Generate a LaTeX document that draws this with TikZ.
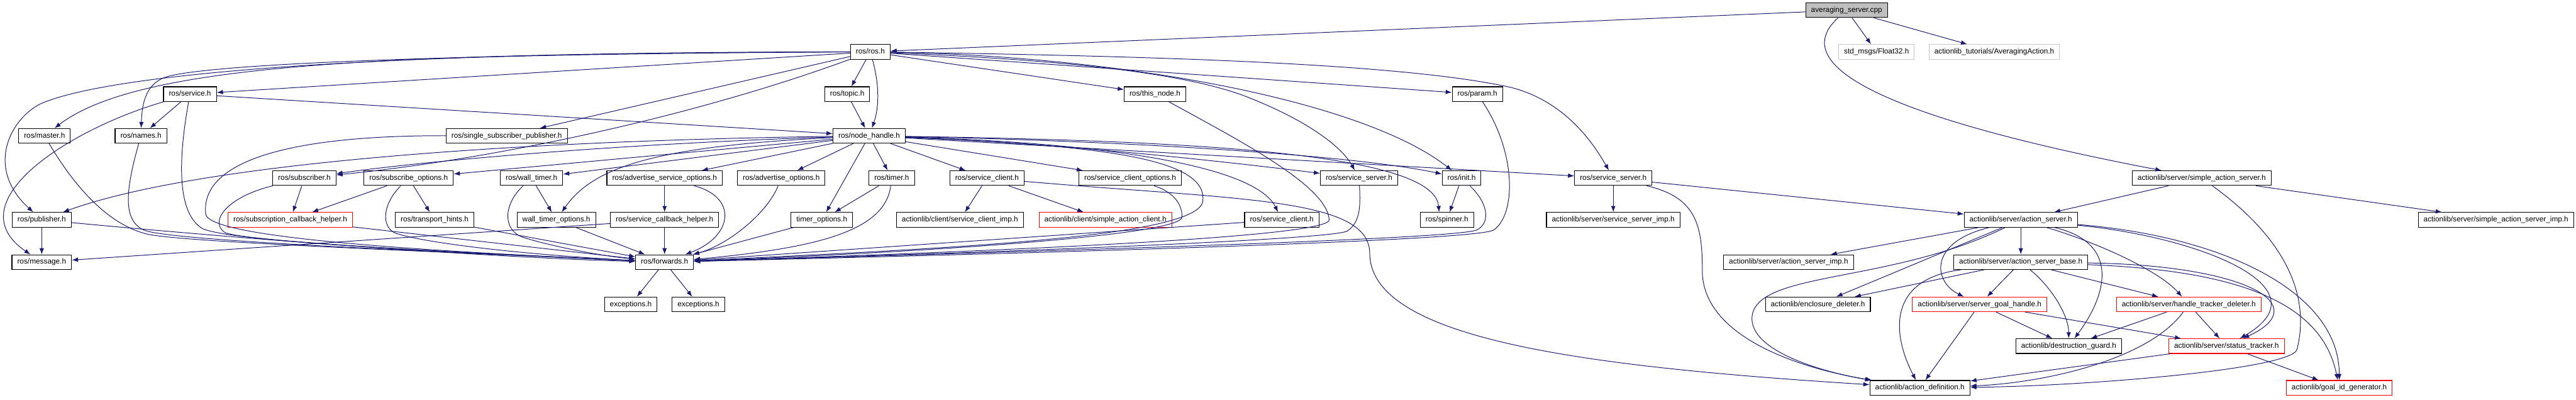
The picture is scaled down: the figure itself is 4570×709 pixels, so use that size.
\documentclass[tikz,border=0pt]{standalone}
\usepackage{fontspec}
\setmainfont{Liberation Sans}
\usepackage{tikz}
\usetikzlibrary{arrows.meta,positioning}
\definecolor{edgeblue}{RGB}{25,25,112}
\definecolor{rootgray}{RGB}{191,191,191}
\definecolor{extgray}{RGB}{200,200,200}
\definecolor{truncred}{RGB}{255,0,0}

\begin{document}
\begin{tikzpicture}[x=1pt, y=-1pt]
    \tikzstyle{hdr}=[draw, line width=1.2pt, fill=white, minimum height=26pt, inner xsep=9.5pt, inner ysep=0pt, text height=9.6pt, text depth=2.8pt, font=\fontsize{13.2}{15}\selectfont]
    \tikzstyle{trunc}=[hdr, draw=truncred]
    \tikzstyle{extern}=[hdr, draw=extgray]
    \tikzstyle{rootbox}=[hdr, fill=rootgray]
    \tikzstyle{dep}=[draw=edgeblue, line width=1.1pt, -{Latex[length=11pt,width=8pt]}]
    \useasboundingbox (0,0) rectangle (4570,709);

    \node[rootbox] (avg) at (3276,18) {averaging\_server.cpp};
    \node[hdr] (ros) at (1544,92) {ros/ros.h};
    \node[extern] (f32) at (3329,92) {std\_msgs/Float32.h};
    \node[extern] (avgact) at (3538,92) {actionlib\_tutorials/AveragingAction.h};

    \node[hdr] (srv) at (337,167) {ros/service.h};
    \node[hdr] (topic) at (1503,167) {ros/topic.h};
    \node[hdr] (thisnode) at (2049,167) {ros/this\_node.h};
    \node[hdr] (param) at (2621,167) {ros/param.h};

    \node[hdr] (master) at (79,241) {ros/master.h};
    \node[hdr] (names) at (250,241) {ros/names.h};
    \node[hdr] (ssp) at (899,241) {ros/single\_subscriber\_publisher.h};
    \node[hdr] (nh) at (1542,241) {ros/node\_handle.h};

    \node[hdr] (sub) at (540,316) {ros/subscriber.h};
    \node[hdr] (subopt) at (725,316) {ros/subscribe\_options.h};
    \node[hdr] (wt) at (943,316) {ros/wall\_timer.h};
    \node[hdr] (aso) at (1179,316) {ros/advertise\_service\_options.h};
    \node[hdr] (ao) at (1386,316) {ros/advertise\_options.h};
    \node[hdr] (timer) at (1582,316) {ros/timer.h};
    \node[hdr] (sc) at (1751,316) {ros/service\_client.h};
    \node[hdr] (sco) at (2005,316) {ros/service\_client\_options.h};
    \node[hdr] (ss1) at (2411,316) {ros/service\_server.h};
    \node[hdr] (init) at (2593,316) {ros/init.h};
    \node[hdr] (ss2) at (2862,316) {ros/service\_server.h};
    \node[hdr] (sas) at (3906,316) {actionlib/server/simple\_action\_server.h};

    \node[hdr] (pub) at (74,390) {ros/publisher.h};
    \node[trunc] (subcb) at (515,390) {ros/subscription\_callback\_helper.h};
    \node[hdr] (hints) at (771,390) {ros/transport\_hints.h};
    \node[hdr] (wto) at (987,390) {wall\_timer\_options.h};
    \node[hdr] (svccb) at (1179,390) {ros/service\_callback\_helper.h};
    \node[hdr] (to) at (1458,390) {timer\_options.h};
    \node[hdr] (scimp) at (1703,390) {actionlib/client/service\_client\_imp.h};
    \node[trunc] (sac) at (1961,390) {actionlib/client/simple\_action\_client.h};
    \node[hdr] (sc2) at (2274,390) {ros/service\_client.h};
    \node[hdr] (spin) at (2567,390) {ros/spinner.h};
    \node[hdr] (ssimp) at (2862,390) {actionlib/server/service\_server\_imp.h};
    \node[hdr] (as) at (3585,390) {actionlib/server/action\_server.h};
    \node[hdr] (sasimp) at (4428,390) {actionlib/server/simple\_action\_server\_imp.h};

    \node[hdr] (msg) at (74,465) {ros/message.h};
    \node[hdr] (fw) at (1179,465) {ros/forwards.h};
    \node[hdr] (asimp) at (3173,465) {actionlib/server/action\_server\_imp.h};
    \node[hdr] (asb) at (3585,465) {actionlib/server/action\_server\_base.h};

    \node[hdr] (excA) at (1119,540) {exceptions.h};
    \node[hdr] (excB) at (1239,540) {exceptions.h};
    \node[hdr] (encl) at (3225,540) {actionlib/enclosure\_deleter.h};
    \node[trunc] (sgh) at (3512,540) {actionlib/server/server\_goal\_handle.h};
    \node[trunc] (htd) at (3883,540) {actionlib/server/handle\_tracker\_deleter.h};

    \node[hdr] (guard) at (3670,614) {actionlib/destruction\_guard.h};
    \node[trunc] (stat) at (3950,614) {actionlib/server/status\_tracker.h};

    \node[hdr] (adef) at (3406,688) {actionlib/action\_definition.h};
    \node[trunc] (goalid) at (4150,688) {actionlib/goal\_id\_generator.h};

    % averaging_server.cpp
    \draw[dep] (avg) -- (ros);
    \draw[dep] (avg) -- (f32);
    \draw[dep] (avg) -- (avgact);
    \draw[dep] (avg) .. controls (3130,150) and (3560,250) .. (sas);

    % ros/ros.h
    \draw[dep] (ros) -- (topic);
    \draw[dep] (ros) .. controls (1560,150) and (1560,190) .. (nh);
    \draw[dep] (ros) -- (thisnode);
    \draw[dep] (ros) -- (param);
    \draw[dep] (ros) .. controls (2100,100) and (2500,115) .. (2680,155) .. controls (2780,180) and (2830,260) .. (ss2);
    \draw[dep] (ros) .. controls (1850,105) and (2100,125) .. (2220,175) .. controls (2320,215) and (2380,260) .. (ss1);
    \draw[dep] (ros) .. controls (2000,100) and (2420,180) .. (init);
    \draw[dep] (ros) -- (srv);
    \draw[dep] (ros) .. controls (700,95) and (250,110) .. (master);
    \draw[dep] (ros) .. controls (900,95) and (400,110) .. (300,135) .. controls (260,145) and (252,180) .. (names);
    \draw[dep] (ros) .. controls (600,92) and (180,135) .. (70,185) .. controls (15,215) and (-25,300) .. (pub);
    \draw[dep] (ros) -- (ssp);
    \draw[dep] (ros) .. controls (1250,200) and (900,280) .. (sub);

    % ros/service.h, ros/topic.h, ros/this_node.h, ros/param.h
    \draw[dep] (srv) -- (names);
    \draw[dep] (srv) .. controls (120,230) and (-80,360) .. (msg);
    \draw[dep] (srv) .. controls (315,290) and (315,380) .. (360,406) .. controls (420,430) and (800,447) .. (fw);
    \draw[dep] (srv) -- (nh);
    \draw[dep] (topic) -- (nh);
    \draw[dep] (thisnode) .. controls (2200,250) and (2355,330) .. (2358,390) .. controls (2360,420) and (1800,445) .. (fw);
    \draw[dep] (param) .. controls (2690,270) and (2690,380) .. (2650,408) .. controls (2620,428) and (1800,450) .. (fw);
    \draw[dep] (master) .. controls (120,310) and (180,395) .. (260,415) .. controls (320,430) and (800,447) .. (fw);
    \draw[dep] (names) .. controls (225,330) and (215,390) .. (255,408) .. controls (300,428) and (800,447) .. (fw);
    \draw[dep] (ssp) .. controls (500,240) and (355,290) .. (365,380) .. controls (372,425) and (800,447) .. (fw);

    % ros/node_handle.h
    \draw[dep] (nh) .. controls (900,250) and (350,290) .. (pub);
    \draw[dep] (nh) .. controls (1100,255) and (760,285) .. (sub);
    \draw[dep] (nh) -- (subopt);
    \draw[dep] (nh) -- (wt);
    \draw[dep] (nh) -- (aso);
    \draw[dep] (nh) -- (ao);
    \draw[dep] (nh) -- (to);
    \draw[dep] (nh) -- (timer);
    \draw[dep] (nh) -- (sc);
    \draw[dep] (nh) -- (sco);
    \draw[dep] (nh) .. controls (1150,260) and (1050,300) .. (wto);
    \draw[dep] (nh) .. controls (1950,258) and (2140,280) .. (2134,355) .. controls (2134,420) and (1700,440) .. (fw);
    \draw[dep] (nh) .. controls (1900,255) and (2200,290) .. (ss1);
    \draw[dep] (nh) .. controls (2000,250) and (2400,275) .. (init);
    \draw[dep] (nh) .. controls (2150,250) and (2545,275) .. ([xshift=-14pt]spin.north);
    \draw[dep] (nh) -- (ss2);
    \draw[dep] (nh) .. controls (2000,255) and (2230,300) .. (sc2);

    % second row of ros headers
    \draw[dep] (sub) -- (subcb);
    \draw[dep] (sub) .. controls (400,350) and (370,395) .. (400,413) .. controls (440,428) and (800,448) .. (fw);
    \draw[dep] (subopt) -- (subcb);
    \draw[dep] (subopt) -- (hints);
    \draw[dep] (subopt) .. controls (680,360) and (675,400) .. (700,413) .. controls (740,428) and (900,450) .. (fw);
    \draw[dep] (wt) -- (wto);
    \draw[dep] (wt) .. controls (895,360) and (890,405) .. (925,420) .. controls (960,432) and (1050,452) .. (fw);
    \draw[dep] (aso) -- (svccb);
    \draw[dep] (aso) .. controls (1310,350) and (1300,420) .. (fw);
    \draw[dep] (ao) .. controls (1360,380) and (1290,435) .. (fw);
    \draw[dep] (timer) -- (to);
    \draw[dep] (timer) .. controls (1570,410) and (1450,440) .. (fw);
    \draw[dep] (sc) -- (scimp);
    \draw[dep] (sc) -- (sac);
    \draw[dep] (sc) .. controls (2200,355) and (2430,350) .. (2430,450) .. controls (2432,600) and (2800,650) .. (adef);
    \draw[dep] (sco) .. controls (2080,340) and (2097,360) .. (2097,385) .. controls (2097,415) and (1700,445) .. (fw);
    \draw[dep] (ss1) .. controls (2414,370) and (2412,395) .. (2390,410) .. controls (2360,425) and (1800,447) .. (fw);
    \draw[dep] (init) -- (spin);
    \draw[dep] (init) .. controls (2640,360) and (2645,395) .. (2620,408) .. controls (2580,425) and (1800,447) .. (fw);
    \draw[dep] (ss2) -- (ssimp);
    \draw[dep] (ss2) -- (as);
    \draw[dep] (ss2) .. controls (3010,350) and (3020,400) .. (3020,480) .. controls (3020,600) and (3200,655) .. (adef);
    \draw[dep] (sas) -- (as);
    \draw[dep] (sas) -- (sasimp);
    \draw[dep] (sas) .. controls (4050,420) and (4100,520) .. (4075,620) .. controls (4065,655) and (3700,685) .. (adef);

    % third row
    \draw[dep] (pub) -- (msg);
    \draw[dep] (pub) .. controls (500,430) and (900,458) .. (fw);
    \draw[dep] (subcb) -- (fw);
    \draw[dep] (hints) -- (fw);
    \draw[dep] (wto) -- (fw);
    \draw[dep] (svccb) -- (fw);
    \draw[dep] (svccb) -- (msg);
    \draw[dep] (to) -- (fw);
    \draw[dep] (sc2) -- (fw);
    \draw[dep] (fw) -- (excA);
    \draw[dep] (fw) -- (excB);

    % action server
    \draw[dep] (as) -- (asimp);
    \draw[dep] (as) -- (asb);
    \draw[dep] (as) -- (encl);
    \draw[dep] (as) .. controls (3350,505) and (3110,480) .. (3108,565) .. controls (3108,630) and (3260,665) .. (adef);
    \draw[dep] (as) .. controls (3420,430) and (3430,500) .. (sgh);
    \draw[dep] (as) .. controls (3760,430) and (3740,520) .. (guard);
    \draw[dep] (as) .. controls (3720,430) and (3830,480) .. (htd);
    \draw[dep] (as) .. controls (3900,420) and (4130,510) .. (stat);
    \draw[dep] (as) .. controls (3950,420) and (4150,520) .. (goalid);
    \draw[dep] (asb) -- (encl);
    \draw[dep] (asb) .. controls (3350,495) and (3355,590) .. (adef);
    \draw[dep] (asb) -- (sgh);
    \draw[dep] (asb) .. controls (3640,510) and (3670,560) .. (guard);
    \draw[dep] (asb) -- (htd);
    \draw[dep] (asb) .. controls (3980,470) and (4110,540) .. (stat);
    \draw[dep] (asb) .. controls (3980,480) and (4120,540) .. (goalid);
    \draw[dep] (sgh) -- (adef);
    \draw[dep] (sgh) -- (guard);
    \draw[dep] (sgh) -- (stat);
    \draw[dep] (htd) -- (guard);
    \draw[dep] (htd) .. controls (3810,640) and (3620,680) .. (adef);
    \draw[dep] (htd) -- (stat);
    \draw[dep] (stat) -- (adef);
    \draw[dep] (stat) -- (goalid);
\end{tikzpicture}
\end{document}
